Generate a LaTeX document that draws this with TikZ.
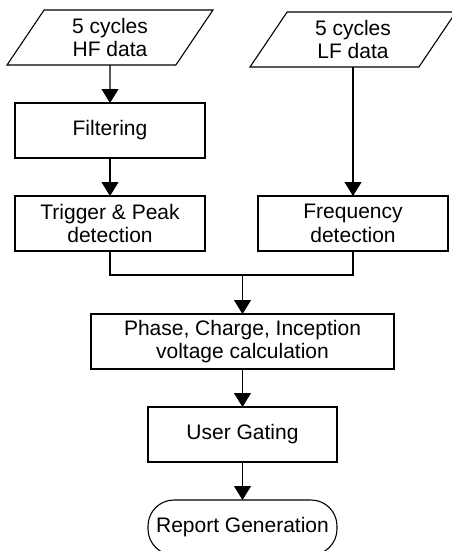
\documentclass[tikz,border=0pt]{standalone}
\usepackage{fontspec}
\setmainfont{Liberation Sans}
\usepackage{tikz}
\usetikzlibrary{shapes,arrows,positioning,calc,arrows.meta}

\begin{document}
\begin{tikzpicture}[x=1pt, y=-1pt, node distance=38pt, outer sep=0pt,
    every node/.style={font=\fontsize{21}{23.5}\selectfont, align=center},
    box/.style={draw, rectangle, line width=1.1pt, minimum height=55pt},
    data/.style={draw, trapezium, trapezium left angle=63, trapezium right angle=117, trapezium stretches=true, line width=1.1pt, minimum width=206pt, minimum height=55pt},
    term/.style={draw, rectangle, rounded corners=26pt, line width=1.1pt, minimum width=189pt, minimum height=55pt},
    flow/.style={line width=1.1pt, -{Triangle[length=14pt, width=17pt]}}]
    \useasboundingbox (0,0) rectangle (452,551);
    \node [data] (hf) at (110,37.5) {5 cycles\\HF data};
    \node [data] (lf) at (353,39.5) {5 cycles\\LF data};
    \node [box, minimum width=190pt, below=of hf] (filt) {Filtering};
    \node [box, minimum width=190pt, below=of filt] (trig) {Trigger \& Peak\\detection};
    \node [box, minimum width=190pt, right=53pt of trig] (freq) {Frequency\\detection};
    \node [box, minimum width=303pt] (phase) at (242.5,341.5) {Phase, Charge, Inception\\voltage calculation};
    \node [box, minimum width=189pt, below=of phase] (gate) {User Gating};
    \node [term, below=of gate] (rep) {Report Generation};
    \coordinate (join) at (242.5,275);
    % connectors
    \draw [flow] (hf) -- (filt);
    \draw [flow] (filt) -- (trig);
    \draw [flow] (lf.south) -- (freq.north);
    \draw [line width=1.1pt] (trig.south) |- (join);
    \draw [line width=1.1pt] (freq.south) |- (join);
    \draw [flow] (join) -- (phase.north -| join);
    \draw [flow] (phase) -- (gate);
    \draw [flow] (gate) -- (rep);
\end{tikzpicture}
\end{document}
